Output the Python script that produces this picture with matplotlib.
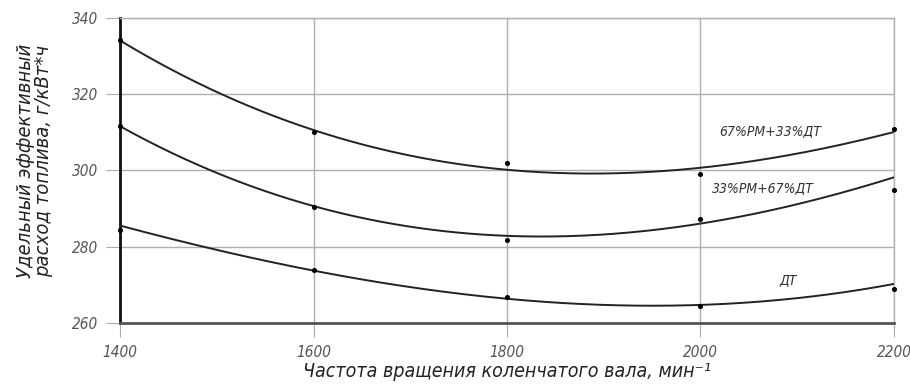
import numpy as np
import matplotlib
matplotlib.use("Agg")
import matplotlib.pyplot as plt

rpm = [1400, 1600, 1800, 2000, 2200]
# measured points
fuel_67rm = [334.2, 310.2, 302.0, 299.2, 310.8]
fuel_33rm = [311.7, 290.3, 281.7, 287.2, 294.9]
fuel_dt = [284.5, 273.9, 266.7, 264.5, 268.9]
# trend-line values read at the same speeds
trend_67rm = [334.2, 310.2, 300.8, 300.3, 310.2]
trend_33rm = [311.7, 290.3, 283.4, 285.7, 298.3]
trend_dt = [285.5, 273.9, 266.1, 264.9, 270.2]
series_labels = ["67%РМ+33%ДТ", "33%РМ+67%ДТ", "ДТ"]
label_pos = [(2072, 310.3), (2065, 295.4), (2091, 271.2)]
xticks = [1400, 1600, 1800, 2000, 2200]
yticks = [260, 280, 300, 320, 340]

plt.rcParams["font.family"] = ["DejaVu Sans"]
plt.rcParams["font.stretch"] = "condensed"

fig = plt.figure(figsize=(9.1, 3.91), dpi=100)
ax = fig.add_axes([0.1319, 0.174, 0.8505, 0.780])

xs = np.linspace(1400, 2200, 300)
for pts, tr in ((fuel_67rm, trend_67rm), (fuel_33rm, trend_33rm), (fuel_dt, trend_dt)):
    c = np.polyfit(rpm, tr, 3)
    ax.plot(xs, np.polyval(c, xs), color="#222222", lw=1.4, zorder=3)
    ax.scatter(rpm, pts, s=7, color="black", zorder=4, clip_on=False)

for lab, (x, y) in zip(series_labels, label_pos):
    ax.text(x, y, lab, fontsize=10, style="italic", color="#333333",
            ha="center", va="center", stretch="condensed")

ax.set_xlim(1400, 2200)
ax.set_ylim(260, 340)
ax.set_xticks(xticks)
ax.set_yticks(yticks)
ax.grid(True, color="#b0b0b0", lw=1.0)
ax.tick_params(axis="both", length=10, color="#aaaaaa", labelsize=11,
               labelcolor="#555555")
ax.tick_params(axis="x", pad=6)
ax.tick_params(axis="y", pad=6)
for t in ax.get_xticklabels() + ax.get_yticklabels():
    t.set_style("italic")
    t.set_stretch("condensed")
ax.spines["left"].set_color("#111111")
ax.spines["left"].set_linewidth(2)
ax.spines["bottom"].set_color("#555555")
ax.spines["bottom"].set_linewidth(2)
for s in ("top", "right"):
    ax.spines[s].set_color("#b0b0b0")
    ax.spines[s].set_linewidth(1)

ax.set_xlabel("Частота вращения коленчатого вала, мин⁻¹", fontsize=14,
              style="italic", color="#222222", labelpad=1, stretch="condensed")
ax.set_ylabel("Удельный эффективный\nрасход топлива, г/кВт*ч", fontsize=14.5,
              style="italic", color="#222222", linespacing=0.95,
              stretch="condensed")
ax.yaxis.set_label_coords(-0.086, 0.53)

fig.savefig("out.png", dpi=100)
